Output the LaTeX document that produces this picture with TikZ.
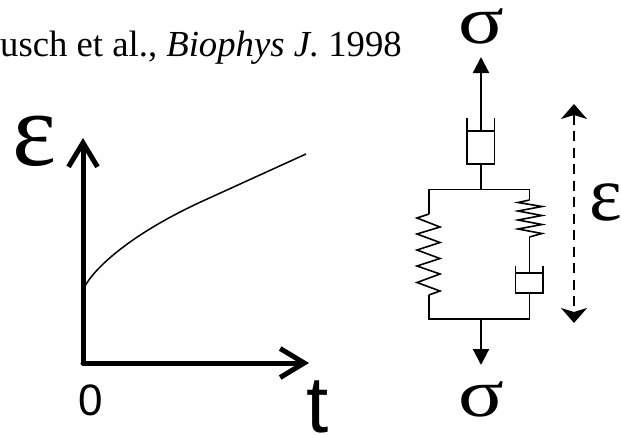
\documentclass[tikz,border=0pt]{standalone}
\usepackage{fontspec}
\setmainfont{Liberation Serif}
\newfontfamily\sansfont{Liberation Sans}
\usetikzlibrary{arrows.meta}
\begin{document}
\begin{tikzpicture}[
		x=1pt, y=-1pt,
		lab/.style={inner sep=0pt, anchor=base, font=\fontsize{68}{68}\selectfont},
		num/.style={inner sep=0pt, anchor=base, font=\sansfont\fontsize{44}{44}\selectfont},
		axis/.style={line width=5pt, line cap=round, -{Straight Barb[length=24pt, width=29pt, line width=5pt]}},
		l/.style={line width=1.6pt},
		fr/.style={line width=2.2pt, -{Stealth[length=16pt, width=16pt, inset=0pt]}},
		dsh/.style={line width=1.8pt, dash pattern=on 10pt off 6.5pt, {Stealth[length=15pt, width=26pt, inset=4pt]}-{Stealth[length=15pt, width=26pt, inset=4pt]}}
		]
		\useasboundingbox (0, 0) rectangle (621, 434);
		
		%Nodes
		\node[inner sep=0pt, anchor=base east, font=\fontsize{36.7}{36.7}\selectfont] (ref) at (402, 56) {usch et al., \textit{Biophys J.} 1998};
		\node[lab]	(eps1)	at (35, 165)	{\fontsize{105}{105}\selectfont ε};
		\node[lab]	(eps2)	at (605.5, 220)	{\fontsize{78}{78}\selectfont ε};
		\node[lab]	(sig1)	at (481, 43)	{\scalebox{1.25}[1]{σ}};
		\node[lab]	(sig2)	at (481, 416)	{\scalebox{1.25}[1]{σ}};
		\node[num]	(zero)	at (91, 415)	{0};
		\node[num, font=\sansfont\fontsize{80}{80}\selectfont]	(t1)	at (318, 432)	{t};
		
		\coordinate (org)	at (83, 363);
		\coordinate (ytop)	at (83, 138);
		\coordinate (xend)	at (309, 363);
		\coordinate (c0)	at (85, 286);
		\coordinate (c1)	at (306, 154);
		
		\coordinate (ftop)	at (481, 57);
		\coordinate (d1p)	at (481, 131);
		\coordinate (d1b)	at (481, 164);
		\coordinate (tm)	at (481, 189.5);
		\coordinate (tl)	at (429, 189.5);
		\coordinate (tr)	at (529.5, 189.5);
		\coordinate (bm)	at (481, 319);
		\coordinate (bl)	at (429, 319);
		\coordinate (br)	at (529.5, 319);
		\coordinate (fbot)	at (481, 365);
		\coordinate (d2p)	at (529.5, 273);
		\coordinate (d2b)	at (529.5, 293);
		\coordinate (s1a)	at (429, 214);
		\coordinate (s1b)	at (429, 295);
		\coordinate (s2a)	at (529.5, 200);
		\coordinate (s2b)	at (529.5, 237);
		\coordinate (etop)	at (574, 104);
		\coordinate (ebot)	at (574, 323);
		
		%Lines
		\draw[axis] (org) -- (ytop);
		\draw[axis] (org) -- (xend);
		\draw[line width=1.5pt] (c0) .. controls (95, 268) and (130, 234) .. (205, 200) -- (c1);
		
		\draw[fr] (d1p) -- (ftop);
		\draw[l] (467, 118) |- (494.5, 131) -- (494.5, 118);
		\draw[l] (467, 131) |- (d1b) -| (494.5, 131);
		\draw[l] (d1b) -- (tm);
		\draw[l] (s1a) |- (tr) -- (s2a);
		
		\draw[l] (s1a) -- (417, 218) -- (440, 227) -- (417, 234) -- (440, 242.5) -- (417, 250) -- (440, 258.5) -- (417, 266) -- (440, 274) -- (417, 282.5) -- (440, 291) -- (s1b);
		\draw[l] (s2a) -- (518, 202.5) -- (542, 206.5) -- (518, 211) -- (542, 215.5) -- (518, 220) -- (542, 224.5) -- (518, 229) -- (542, 233.5) -- (s2b);
		
		\draw[l] (s2b) -- (d2p);
		\draw[l] (515.5, 265.5) |- (543, 273) -- (543, 265.5);
		\draw[l] (515.5, 273) |- (d2b) -| (543, 273);
		\draw[l] (d2b) -- (br);
		\draw[l] (s1b) |- (br);
		\draw[fr] (bm) -- (fbot);
		
		\draw[dsh] (etop) -- (ebot);
		
	\end{tikzpicture}
\end{document}
